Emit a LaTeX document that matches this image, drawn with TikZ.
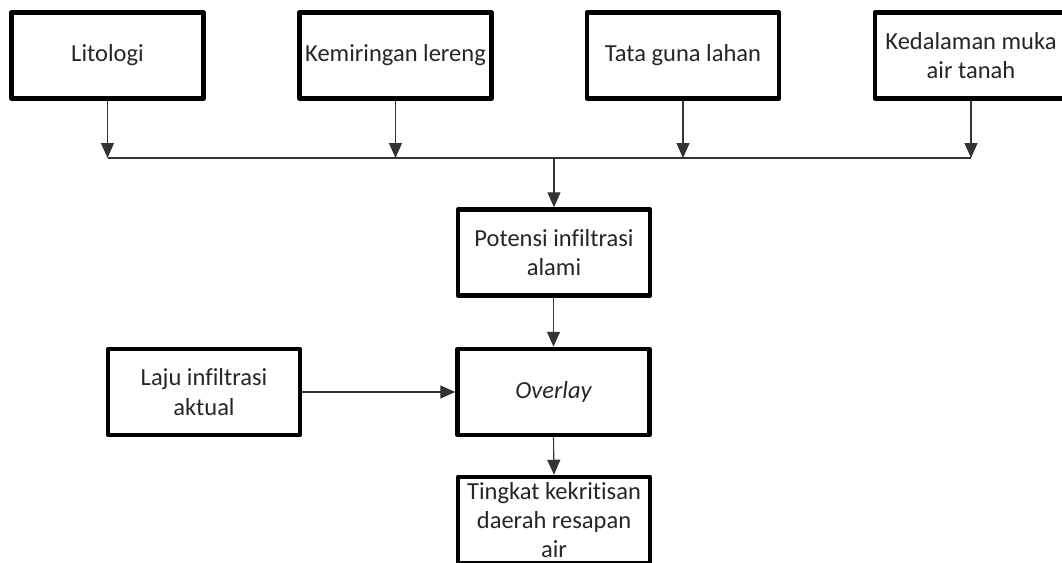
\documentclass[tikz,border=0pt]{standalone}
\usepackage{fontspec}
\setmainfont{Carlito}[Ligatures={NoCommon}]
\usetikzlibrary{arrows.meta}
\begin{document}
\begin{tikzpicture}[x=1pt,y=-1pt,
  box/.style={draw=black, line width=4.5pt, line join=round, fill=white,
    minimum width=192pt, minimum height=86pt, inner sep=2pt,
    align=center, font=\fontsize{24.5pt}{29.5pt}\selectfont, text=black!85},
  conn/.style={draw=black!80, line width=1.1pt},
  arr/.style={conn, -{Triangle[length=15pt, width=13pt]}}]
\useasboundingbox (0,0) rectangle (1062,562);
\clip (0,0) rectangle (1062,562);
\node[box] (lit) at (107.5,55.5) {Litologi};
\node[box] (kem) at (395.5,55.5) {Kemiringan lereng};
\node[box] (tata) at (683,55.5) {Tata guna lahan};
\node[box] (ked) at (971,55.5) {Kedalaman muka\\air tanah};
\node[box] (pot) at (554,252.5) {Potensi infiltrasi\\alami};
\node[box] (laju) at (204,392) {Laju infiltrasi\\aktual};
\node[box] (ovl) at (553.5,392) {\itshape Overlay};
\node[box, font=\fontsize{24.5pt}{29pt}\selectfont] (ting) at (554,520) {Tingkat kekritisan\\daerah resapan\\air};
\coordinate (busL) at (107.5,158);
\coordinate (busR) at (971,158);
\draw[conn] (busL) -- (busR);
\draw[arr] (lit.south) -- (lit.south |- busL);
\draw[arr] (kem.south) -- (kem.south |- busL);
\draw[arr] (tata.south) -- (tata.south |- busL);
\draw[arr] (ked.south) -- (ked.south |- busL);
\draw[arr] (pot.north |- busL) -- (pot.north);
\draw[arr] (pot.south) -- (pot.south -| ovl.north) -- (ovl.north);
\draw[arr] (laju.east) -- (ovl.west);
\draw[arr] (ovl.south) -- (ting.north);
\end{tikzpicture}
\end{document}
